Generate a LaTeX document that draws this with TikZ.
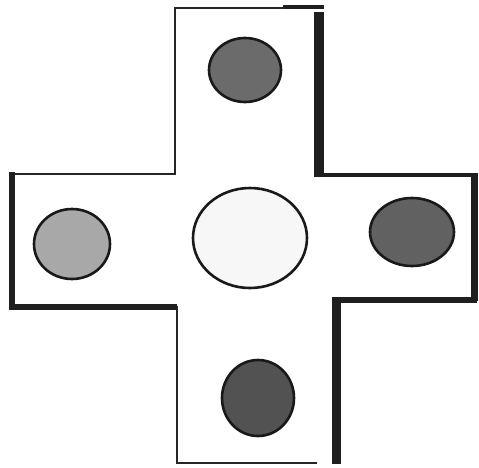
\documentclass[tikz,border=0pt]{standalone}
\begin{document}
\begin{tikzpicture}[x=1pt,y=-1pt,
  thinedge/.style={line width=2.2pt,color=black!85},
  thickedge/.style={line width=#1,color=black!88},
  disc/.style={draw=black!90,line width=2.6pt}]
\useasboundingbox (0,0) rectangle (479,467);
% thin edges (lit side)
\draw[thinedge] (10,174) -- (175,174) -- (175,8) -- (284,8);
\draw[thinedge] (177,306) -- (177,463) -- (317,463);
% thick edges (shadow side)
\draw[thickedge=4pt] (283,6.5) -- (324,6.5);
\draw[thickedge=10pt] (318.5,12) -- (318.5,177);
\draw[thickedge=4pt] (314,175) -- (478,175);
\draw[thickedge=6.5pt] (474.5,173) -- (474.5,301);
\draw[thickedge=5.5pt] (332,300) -- (477,300);
\draw[thickedge=9pt] (336,297) -- (336,464);
\draw[thickedge=6.5pt] (9,307) -- (177,307);
\draw[thickedge=5.5pt] (12,172) -- (12,310);
\draw[line width=2.2pt,black!85] (177,307) -- (177,312);
% discs
\draw[disc,fill=black!58] (245,70) ellipse [x radius=36,y radius=32];
\draw[disc,fill=black!34] (72,244) ellipse [x radius=38,y radius=35];
\draw[disc,fill=white!97!black] (250,238) ellipse [x radius=57,y radius=50];
\draw[disc,fill=black!62] (412,232) ellipse [x radius=42,y radius=34];
\draw[disc,fill=black!68] (258,398) ellipse [x radius=36,y radius=38];
\end{tikzpicture}
\end{document}
